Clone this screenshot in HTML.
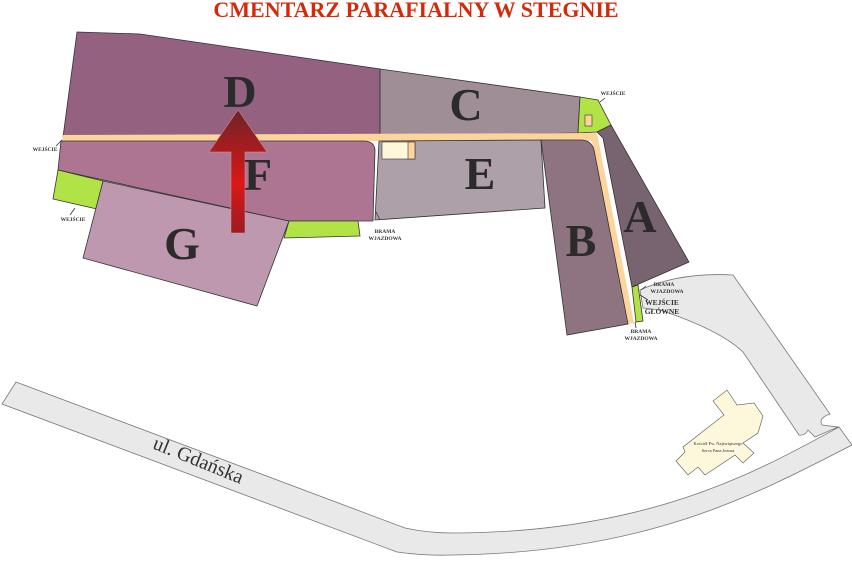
<!DOCTYPE html>
<html><head><meta charset="utf-8"><style>
html,body{margin:0;padding:0;background:#fff;}
svg{display:block;}
.L{font-family:"Liberation Serif",serif;font-weight:bold;font-size:46px;fill:#2b2b2b;text-anchor:middle;}
.s{font-family:"Liberation Serif",serif;font-weight:bold;font-size:5.5px;fill:#333;text-anchor:middle;}
</style></head><body>
<svg width="852" height="561" viewBox="0 0 852 561" xmlns="http://www.w3.org/2000/svg">
<defs>
<linearGradient id="ar" x1="0" y1="0" x2="0" y2="1">
<stop offset="0" stop-color="#6e2228"/><stop offset="0.6" stop-color="#dc1717"/><stop offset="1" stop-color="#9a1c22"/>
</linearGradient>
</defs>
<text x="416" y="17" text-anchor="middle" font-family="Liberation Serif,serif" font-weight="bold" font-size="22" fill="#d42a0a">CMENTARZ PARAFIALNY W STEGNIE</text>
<!-- road -->
<path d="M16,382 L405,528 Q428,533 452,533 C650,533 760,470 839,427 L852,445 C760,492 650,553 452,555 Q425,556 397,552 L2,404 Z" fill="#e9e9e9" stroke="#777" stroke-width="0.8"/>
<text x="0" y="0" transform="translate(196,466) rotate(22)" text-anchor="middle" font-family="Liberation Serif,serif" font-size="20" fill="#333">ul. Gdańska</text>
<!-- access road -->
<path d="M640,290 Q680,272 733,275 L830,414 Q818,418 822,425 L838,427 L815,437 Q810,432 808,430 Q805,436 799,435 L743,352 Q720,330 660,310 L643,308 Z" fill="#e9e9e9" stroke="#777" stroke-width="0.8"/>
<!-- church -->
<polygon points="727,390 737,405 754,403 763,416 758,433 743,443 754,453 743,463 735,455 705,475 698,467 688,475 676,461 685,452 683,447 724,415 713,401" fill="#fdf7dc" stroke="#555" stroke-width="0.6"/>
<text x="718" y="445" text-anchor="middle" font-family="Liberation Serif,serif" font-size="4.5" fill="#333">Kościół Pw. Najświętszego</text>
<text x="718" y="452" text-anchor="middle" font-family="Liberation Serif,serif" font-size="4.5" fill="#333">Serca Pana Jezusa</text>
<g stroke="#333" stroke-width="0.8">
<polygon points="77,32 140,34 380,69 380,136 63,137" fill="#946180"/>
<polygon points="380,69 580,97 578,133 380,136" fill="#a08e97"/>
<polygon points="580,97 598,100 611,125 597,132 578,133" fill="#b2e346"/>
<rect x="585" y="115" width="7" height="11" fill="#fdd59c" stroke-width="0.6"/>
<path d="M63,135 L597,133 L634,323 L628,324 L592,141 L62,141 Z" fill="#fdd59c" stroke="none"/>
<path d="M61,141 L364,141 Q374,141 375,150 L373,221 L289,221 L58,170 Z" fill="#ad7591"/>
<polygon points="379,141 541,140 545,208 375,220" fill="#ada0a8"/>
<rect x="382" y="142" width="33" height="17" fill="#fff7dc" stroke-width="0.6"/>
<rect x="408" y="142" width="7" height="17" fill="#fdd59c" stroke-width="0.6"/>
<path d="M541,140 L582,140 Q592,141 594,150 L628,324 L567,335 Z" fill="#8e7480"/>
<polygon points="611,125 689,262 632,287 603,138 597,132" fill="#786370"/>
<polygon points="632,287 638,285 643,321 636,322" fill="#b2e346"/>
<polygon points="58,170 103,181 97,209 53,199" fill="#b2e346"/>
<polygon points="103,181 289,221 257,306 83,258" fill="#be98ae"/>
<polygon points="289,221 358,221 360,236 284,238" fill="#b2e346"/>
</g>
<path d="M238,110 L267,152 L245,152 L245,233 L231,233 L231,152 L209,152 Z" fill="url(#ar)" stroke="#c8a0a0" stroke-width="0.5"/>
<text class="L" x="240" y="107">D</text>
<text class="L" x="466" y="120">C</text>
<text class="L" x="480" y="189">E</text>
<text class="L" x="258" y="190">F</text>
<text class="L" x="182" y="259">G</text>
<text class="L" x="581" y="256">B</text>
<text class="L" x="640" y="232">A</text>
<g stroke="#333" stroke-width="0.8" fill="none">
<path d="M56,146 L62,140"/><path d="M70,215 L75,208"/><path d="M376,212 L380,220"/>
<path d="M605,98 L600,102"/><path d="M641,290 L646,286"/><path d="M640,295 L648,300"/><path d="M636,328 L635,322"/>
</g>
<text class="s" x="45" y="151">WEJŚCIE</text>
<text class="s" x="73" y="221">WEJŚCIE</text>
<text class="s" x="385" y="233">BRAMA</text>
<text class="s" x="385" y="240">WJAZDOWA</text>
<text class="s" x="613" y="95">WEJŚCIE</text>
<text class="s" x="664" y="286">BRAMA</text>
<text class="s" x="667" y="293">WJAZDOWA</text>
<text x="662" y="305" font-family="Liberation Serif,serif" font-weight="bold" font-size="7.5" fill="#333" text-anchor="middle">WEJŚCIE</text>
<text x="662" y="314" font-family="Liberation Serif,serif" font-weight="bold" font-size="7.5" fill="#333" text-anchor="middle">GŁÓWNE</text>
<text class="s" x="641" y="333">BRAMA</text>
<text class="s" x="641" y="340">WJAZDOWA</text>
</svg>
</body></html>
